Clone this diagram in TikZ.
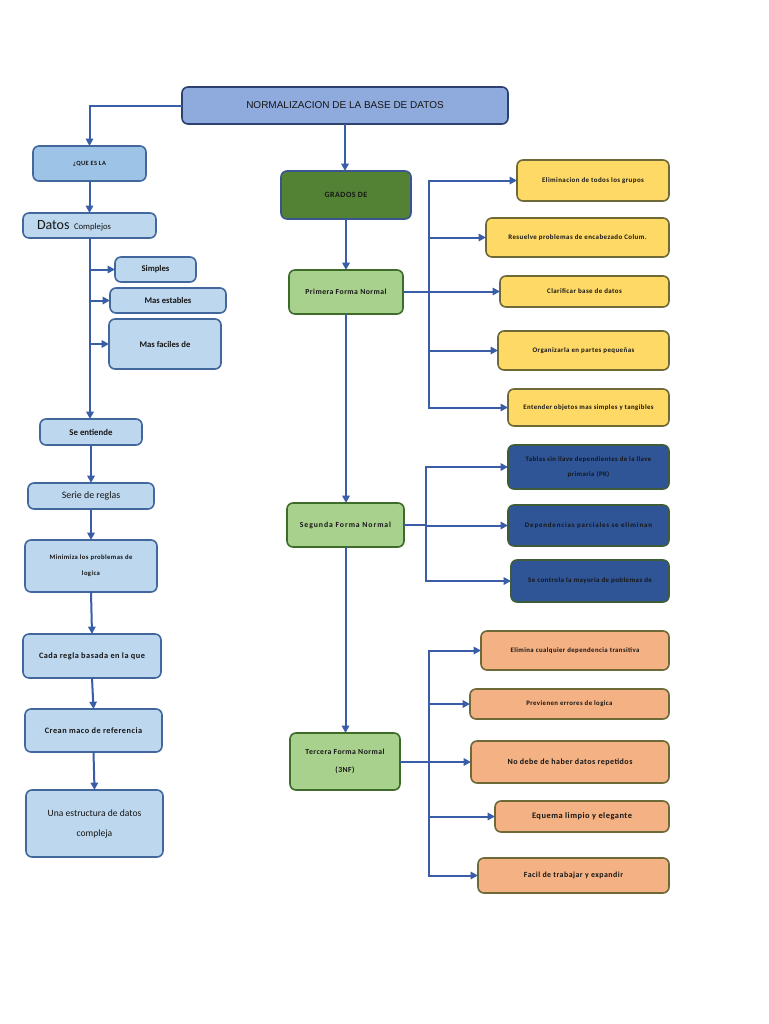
\documentclass[tikz,border=0pt]{standalone}
\usepackage{fontspec}
\setmainfont{Carlito}
\newfontfamily\arialf{Liberation Sans}
\newfontfamily\tinyf[LetterSpace=6]{Carlito}
\newfontfamily\widef[LetterSpace=12]{Carlito}
\usetikzlibrary{arrows.meta,calc}
\definecolor{conn}{HTML}{3A5DA8}
\definecolor{titlefill}{HTML}{8FAADC}
\definecolor{titledraw}{HTML}{2B4170}
\definecolor{qfill}{HTML}{9DC3E6}
\definecolor{lbfill}{HTML}{BDD7EE}
\definecolor{lbdraw}{HTML}{41679C}
\definecolor{gdfill}{HTML}{548235}
\definecolor{gdraw}{HTML}{3A5590}
\definecolor{lgfill}{HTML}{A9D18E}
\definecolor{lgdraw}{HTML}{3E6B2A}
\definecolor{yfill}{HTML}{FFD966}
\definecolor{oldraw}{HTML}{6E6A38}
\definecolor{dbfill}{HTML}{2F5597}
\definecolor{dbdraw}{HTML}{3E5C3A}
\definecolor{ofill}{HTML}{F4B183}
\definecolor{txt}{HTML}{161616}
\tikzset{
  box/.style={draw, rounded corners=4.5pt, line width=1.2pt, inner sep=0pt, outer sep=0pt, align=center, text=txt},
  titlebox/.style={box, fill=titlefill, draw=titledraw, font=\arialf\fontsize{7.5}{9}\selectfont},
  qbox/.style={box, fill=qfill, draw=lbdraw, font=\tinyf\bfseries\fontsize{4.8}{6}\selectfont},
  lbox/.style={box, fill=lbfill, draw=lbdraw},
  gradbox/.style={box, fill=gdfill, draw=gdraw, font=\tinyf\bfseries\fontsize{6}{7}\selectfont},
  formbox/.style={box, fill=lgfill, draw=lgdraw},
  ybox/.style={box, fill=yfill, draw=oldraw, font=\tinyf\bfseries\fontsize{5.2}{11}\selectfont},
  dbox/.style={box, fill=dbfill, draw=dbdraw, font=\tinyf\bfseries\fontsize{5.2}{11}\selectfont},
  obox/.style={box, fill=ofill, draw=oldraw},
  arr/.style={draw=conn, line width=1.5pt, -{Triangle[length=5.5pt,width=5.5pt]}},
  ln/.style={draw=conn, line width=1.5pt},
}
\newcommand\bx[7]{\node[#2, minimum width={(#5-#3)*0.75pt}, minimum height={(#6-#4)*0.75pt}] (#1) at ({(#3+#5)/2},{(#4+#6)/2}) {#7};}
\begin{document}
\begin{tikzpicture}[x=0.75pt,y=-0.75pt]
\useasboundingbox[fill=white] (0,0) rectangle (768,1024);
% title
\bx{t}{titlebox}{182}{87}{508}{124}{NORMALIZACION DE LA BASE DE DATOS}
% left column
\bx{q}{qbox}{33}{146}{146}{181}{¿QUE ES LA}
\node[lbox, minimum width={133*0.75pt}, minimum height={25*0.75pt}, text width={105*0.75pt}, align=left] (d) at (89.5,225.5) {{\fontsize{10.5}{12}\selectfont Datos} {\fontsize{6.5}{8}\selectfont Complejos}};
\bx{s1}{lbox, font=\bfseries\fontsize{6.5}{8}\selectfont}{115}{257}{196}{282}{Simples}
\bx{s2}{lbox, font=\bfseries\fontsize{6.5}{8}\selectfont}{110}{288}{226}{313}{Mas estables}
\bx{s3}{lbox, font=\bfseries\fontsize{6.5}{8}\selectfont}{109}{319}{221}{369}{Mas faciles de}
\bx{se}{lbox, font=\bfseries\fontsize{6.6}{8}\selectfont}{40}{419}{142}{445}{Se entiende}
\bx{sr}{lbox, font=\fontsize{7.4}{8}\selectfont}{28}{483}{154}{509}{Serie de reglas}
\bx{mi}{lbox, font=\tinyf\bfseries\fontsize{5}{12}\selectfont}{25}{540}{157}{592}{Minimiza los problemas de\\logica}
\bx{ca}{lbox, font=\tinyf\bfseries\fontsize{6.2}{8}\selectfont}{23}{634}{161}{678}{Cada regla basada en la que}
\bx{cr}{lbox, font=\tinyf\bfseries\fontsize{6.2}{8}\selectfont}{25}{709}{162}{752}{Crean maco de referencia}
\bx{un}{lbox, font=\fontsize{7.2}{15}\selectfont}{26}{790}{163}{857}{Una estructura de datos\\compleja}
% middle column
\bx{g}{gradbox}{281}{171}{411}{219}{GRADOS DE}
\bx{p1}{formbox, font=\tinyf\bfseries\fontsize{5.8}{7}\selectfont}{289}{270}{403}{314}{Primera Forma Normal}
\bx{p2}{formbox, font=\widef\bfseries\fontsize{5.8}{7}\selectfont}{287}{503}{404}{547}{Segunda Forma Normal}
\bx{p3}{formbox, font=\tinyf\bfseries\fontsize{5.8}{14}\selectfont}{290}{733}{400}{790}{Tercera Forma Normal\\(3NF)}
% yellow
\bx{y1}{ybox}{517}{160}{669}{201}{Eliminacion de todos los grupos}
\bx{y2}{ybox}{486}{218}{669}{257}{Resuelve problemas de encabezado Colum.}
\bx{y3}{ybox}{500}{276}{669}{307}{Clarificar base de datos}
\bx{y4}{ybox}{498}{331}{669}{370}{Organizarla en partes pequeñas}
\bx{y5}{ybox, font=\tinyf\bfseries\fontsize{5.1}{6}\selectfont}{508}{389}{669}{426}{Entender objetos mas simples y tangibles}
% dark blue
\bx{b1}{dbox, font=\tinyf\bfseries\fontsize{5.1}{11}\selectfont}{508}{445}{669}{489}{Tablas sin llave dependientes de la llave\\primaria (PK)}
\bx{b2}{dbox, font=\widef\bfseries\fontsize{5.2}{6}\selectfont}{508}{505}{669}{546}{Dependencias parciales se eliminan}
\bx{b3}{dbox}{511}{560}{669}{602}{Se controla la mayoria de poblemas de}
% orange
\bx{o1}{obox, font=\tinyf\bfseries\fontsize{5.1}{6}\selectfont}{481}{631}{669}{670}{Elimina cualquier dependencia transitiva}
\bx{o2}{obox, font=\tinyf\bfseries\fontsize{5.1}{6}\selectfont}{470}{689}{669}{719}{Previenen errores de logica}
\bx{o3}{obox, font=\tinyf\bfseries\fontsize{6}{7}\selectfont}{471}{741}{669}{783}{No debe de haber datos repetidos}
\bx{o4}{obox, font=\tinyf\bfseries\fontsize{6.3}{7}\selectfont}{495}{801}{669}{832}{Equema limpio y elegante}
\bx{o5}{obox, font=\tinyf\bfseries\fontsize{5.9}{7}\selectfont}{478}{858}{669}{893}{Facil de trabajar y expandir}
% trunk coordinates
\coordinate (ta) at (429,0);
\coordinate (tb) at (426,0);
\coordinate (tc) at (429,0);
\coordinate (tl) at (90,0);
% connectors: left
\draw[arr] (t.west) -| (q.north);
\draw[arr] (q.south) -- (q.south |- d.north);
\draw[arr] (d.south -| tl) -- (tl |- se.north);
\draw[arr] (tl |- s1.west) -- (s1.west);
\draw[arr] (tl |- s2.west) -- (s2.west);
\draw[arr] (tl |- s3.west) -- (s3.west);
\draw[arr] (se.south) -- (sr.north);
\draw[arr] (sr.south) -- (mi.north);
\draw[arr] (mi.south) -- (ca.north);
\draw[arr] (ca.south) -- (cr.north);
\draw[arr] (cr.south) -- (un.north);
% connectors: middle
\draw[arr] (t.south) -- (t.south |- g.north);
\draw[arr] (g.south) -- (g.south |- p1.north);
\draw[arr] (p1.south) -- (p1.south |- p2.north);
\draw[arr] (p2.south) -- (p2.south |- p3.north);
% yellow branches
\draw[ln] (p1.east) -- (p1.east -| ta);
\foreach \n in {y1,y2,y3,y4,y5} \draw[arr] (p1.east -| ta) |- (\n.west);
% blue branches
\draw[ln] (p2.east) -- (p2.east -| tb);
\foreach \n in {b1,b2,b3} \draw[arr] (p2.east -| tb) |- (\n.west);
% orange branches
\draw[ln] (p3.east) -- (p3.east -| tc);
\foreach \n in {o1,o2,o3,o4,o5} \draw[arr] (p3.east -| tc) |- (\n.west);
\end{tikzpicture}
\end{document}
